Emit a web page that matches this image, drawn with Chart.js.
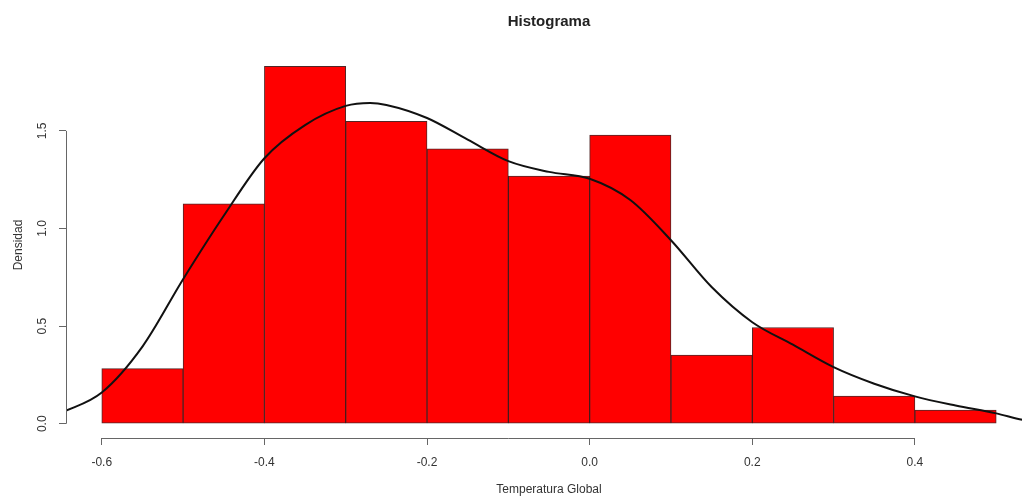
<!DOCTYPE html>
<html>
<head>
<meta charset="utf-8">
<script src="https://cdn.jsdelivr.net/npm/chart.js@4/dist/chart.umd.min.js"></script>
<style>
  html, body { margin: 0; padding: 0; background: #fff; overflow: hidden; }
  canvas { display: block; }
</style>
</head>
<body>
<canvas id="histo" width="1032" height="499"></canvas>
<script>
// histogram bins (width 0.1) and their densities
const binCenters = [-0.55, -0.45, -0.35, -0.25, -0.15, -0.05, 0.05, 0.15, 0.25, 0.35, 0.45];
const density = [0.282, 1.127, 1.831, 1.549, 1.408, 1.268, 1.479, 0.352, 0.493, 0.141, 0.070];

// kernel density curve
const curveX = [-0.65, -0.6, -0.55, -0.5, -0.45, -0.4, -0.35, -0.3, -0.27, -0.25, -0.2,
                -0.15, -0.1, -0.05, 0.0, 0.05, 0.1, 0.15, 0.2, 0.25, 0.3, 0.35,
                0.4, 0.45, 0.5, 0.532, 0.55];
const curveY = [0.055, 0.16, 0.395, 0.74, 1.065, 1.36, 1.53, 1.628, 1.643, 1.633, 1.566,
                1.455, 1.345, 1.29, 1.255, 1.146, 0.94, 0.70, 0.52, 0.405, 0.29, 0.205,
                0.14, 0.093, 0.053, 0.02, 0.01];

const axisFont = { family: "'Liberation Sans', Arial, sans-serif", size: 12 };
const inkColor = "#333";
const lineColor = "#666";

// R style axis lines: only from first to last tick
const rAxes = {
    id: "rAxes",
    afterDraw(chart) {
        const { ctx, chartArea, scales: { x, y } } = chart;
        ctx.save();
        ctx.strokeStyle = lineColor;
        ctx.lineWidth = 1;
        ctx.beginPath();
        const xt = x.ticks;
        const bottom = Math.round(chartArea.bottom) + 0.5;
        ctx.moveTo(x.getPixelForValue(xt[0].value), bottom);
        ctx.lineTo(x.getPixelForValue(xt[xt.length - 1].value), bottom);
        const yt = y.ticks;
        const left = Math.round(chartArea.left) + 0.5;
        ctx.moveTo(left, y.getPixelForValue(yt[0].value));
        ctx.lineTo(left, y.getPixelForValue(yt[yt.length - 1].value));
        ctx.stroke();
        ctx.restore();
    }
};

new Chart(document.getElementById("histo"), {
    type: "bar",
    data: {
        datasets: [
            {
                type: "line",
                data: curveX.map((v, i) => ({ x: v, y: curveY[i] })),
                borderColor: "#111",
                borderWidth: 2,
                pointRadius: 0,
                cubicInterpolationMode: "monotone",
                fill: false,
                order: 0,
            },
            {
                type: "bar",
                data: binCenters.map((v, i) => ({ x: v, y: density[i] })),
                backgroundColor: "#ff0000",
                borderColor: "rgba(50,0,0,0.85)",
                borderWidth: 1,
                borderSkipped: false,
                barPercentage: 1,
                categoryPercentage: 1,
                order: 1,
            },
        ],
    },
    options: {
        responsive: false,
        animation: false,
        layout: { padding: 0 },
        plugins: {
            legend: { display: false },
            tooltip: { enabled: false },
            title: {
                display: true,
                text: "Histograma",
                fullSize: false,
                color: "#222",
                font: { family: "'Liberation Sans', Arial, sans-serif", size: 15, weight: "bold" },
                padding: { top: 13, bottom: 21 },
            },
        },
        scales: {
            x: {
                type: "linear",
                offset: false,
                min: -0.644,
                max: 0.544,
                grid: { offset: false, drawOnChartArea: false, drawTicks: true, tickLength: 7, color: lineColor },
                border: { display: false },
                ticks: {
                    stepSize: 0.2,
                    includeBounds: false,
                    padding: 10,
                    color: inkColor,
                    font: axisFont,
                    maxRotation: 0,
                    autoSkip: false,
                    callback: v => v.toFixed(1),
                },
                title: { display: true, text: "Temperatura Global", color: inkColor, font: axisFont, padding: { top: 0, bottom: 2 } },
                afterFit: s => { s.height = 61; },
            },
            y: {
                min: -0.0732,
                max: 1.9042,
                grid: { drawOnChartArea: false, drawTicks: true, tickLength: 7, color: lineColor },
                border: { display: false },
                ticks: {
                    stepSize: 0.5,
                    includeBounds: false,
                    padding: 8,
                    color: inkColor,
                    font: axisFont,
                    minRotation: 90,
                    maxRotation: 90,
                    crossAlign: "center",
                    callback: v => v.toFixed(1),
                },
                title: { display: true, text: "Densidad", color: inkColor, font: axisFont, padding: { top: 11, bottom: 0 } },
                afterFit: s => { s.width = 66; },
            },
        },
    },
    plugins: [rAxes],
});
</script>
</body>
</html>
